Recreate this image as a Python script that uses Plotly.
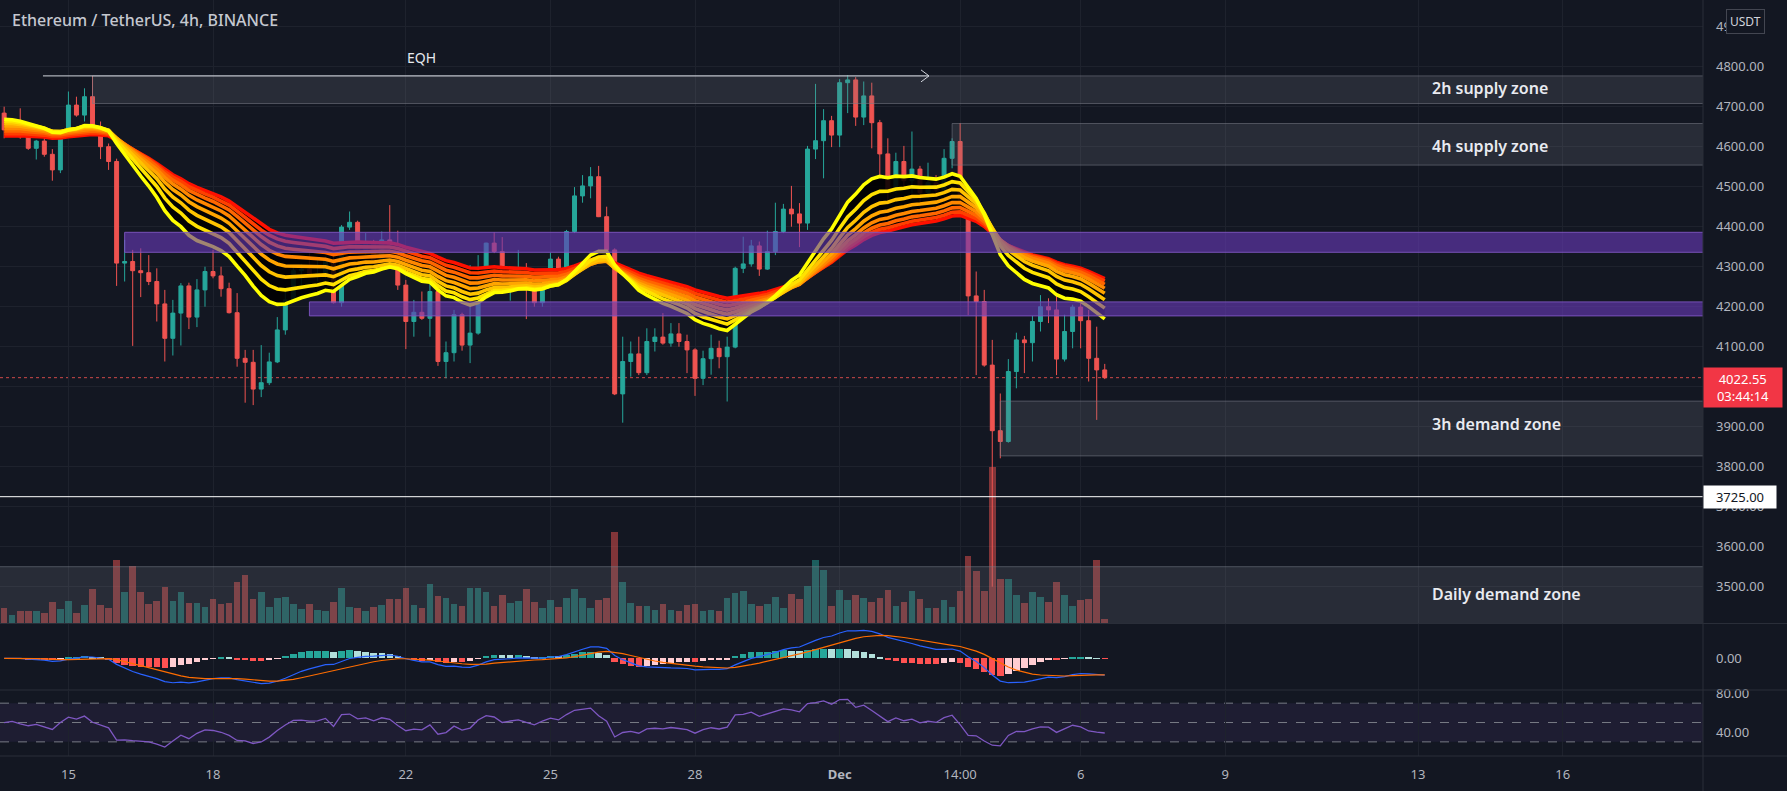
import numpy as np
import pandas as pd
import plotly.graph_objects as go

# ---------------- data (ETH/USDT 4h, Binance) ----------------
bar_start = "2021-11-13 16:00"
open_ = [4684,4642,4660,4625,4596,4614,4581,4542,4627,4704,
         4679,4725,4646,4600,4563,4309,4313,4290,4285,4263,
         4207,4121,4184,4252,4174,4242,4288,4277,4245,4185,
         4071,4061,3994,4010,4062,4142,4217,4290,4294,4280,
         4283,4317,4210,4399,4411,4342,4360,4317,4367,4346,
         4254,4163,4186,4171,4238,4063,4085,4180,4104,4134,
         4271,4359,4338,4244,4271,4292,4250,4210,4271,4319,
         4294,4388,4477,4502,4525,4425,4342,3982,4063,4082,
         4035,4113,4124,4109,4132,4113,4092,4021,4070,4096,
         4075,4099,4296,4307,4352,4294,4338,4388,4444,4432,
         4409,4594,4615,4665,4629,4760,4767,4674,4727,4660,
         4582,4492,4563,4515,4544,4485,4510,4492,4571,4613,
         4467,4227,4213,4054,3890,3863,4038,4117,4110,4163,
         4200,4192,4069,4138,4199,4165,4071,4042]
high = [4700,4670,4696,4640,4617,4627,4594,4635,4738,4725,
        4746,4777,4663,4608,4570,4367,4342,4346,4329,4296,
        4242,4217,4259,4260,4269,4300,4342,4300,4260,4234,
        4092,4092,4104,4085,4174,4242,4302,4307,4334,4317,
        4325,4327,4404,4438,4415,4384,4367,4388,4454,4390,
        4267,4217,4238,4325,4246,4113,4192,4185,4304,4329,
        4360,4386,4374,4282,4342,4309,4259,4277,4335,4325,
        4392,4499,4529,4549,4552,4450,4346,4125,4113,4125,
        4146,4146,4184,4159,4159,4130,4096,4090,4130,4115,
        4125,4300,4375,4367,4363,4390,4460,4457,4502,4459,
        4602,4757,4694,4677,4769,4779,4774,4763,4760,4667,
        4621,4585,4602,4638,4552,4560,4529,4594,4621,4659,
        4475,4288,4242,4117,3983,4069,4135,4127,4177,4229,
        4221,4244,4180,4205,4209,4192,4150,4057]
low = [4621,4637,4620,4592,4568,4575,4515,4534,4622,4675,
       4663,4640,4569,4542,4252,4263,4102,4224,4254,4163,
       4063,4078,4103,4144,4149,4200,4271,4225,4183,4050,
       3960,3954,3974,4004,4059,4130,4213,4250,4275,4263,
       4271,4208,4200,4392,4335,4330,4309,4309,4342,4242,
       4094,4125,4167,4125,4052,4021,4063,4090,4059,4130,
       4265,4334,4234,4215,4259,4169,4200,4200,4250,4284,
       4271,4384,4460,4471,4424,4338,3979,3910,4025,4029,
       4029,4088,4105,4100,4100,4034,3977,4004,4030,4046,
       3963,4096,4284,4300,4277,4292,4329,4384,4400,4349,
       4392,4569,4521,4599,4599,4684,4652,4654,4596,4529,
       4454,4484,4492,4484,4450,4471,4475,4488,4546,4446,
       4179,4029,4050,3500,3821,3860,3996,4034,4063,4138,
       4159,4029,4063,4096,4096,4013,3917,4019]
close = [4642,4660,4625,4596,4614,4581,4542,4627,4704,4679,
         4725,4646,4600,4563,4309,4313,4290,4285,4263,4207,
         4121,4184,4252,4174,4242,4288,4277,4245,4185,4071,
         4061,3994,4010,4062,4142,4217,4290,4294,4280,4283,
         4317,4210,4399,4411,4342,4360,4317,4367,4346,4254,
         4163,4186,4171,4238,4063,4085,4180,4104,4134,4271,
         4359,4338,4244,4271,4292,4250,4210,4271,4319,4294,
         4388,4477,4502,4525,4425,4342,3982,4063,4082,4035,
         4113,4124,4109,4132,4113,4092,4021,4070,4096,4075,
         4099,4296,4307,4352,4294,4338,4388,4444,4432,4409,
         4594,4615,4665,4629,4760,4767,4674,4727,4660,4582,
         4492,4563,4515,4544,4485,4510,4492,4571,4613,4467,
         4227,4213,4054,3890,3863,4038,4117,4110,4163,4200,
         4192,4069,4138,4199,4165,4071,4042,4022.55]
volume_k = [43,25,35,35,35,30,63,40,64,30,
            52,100,54,43,185,92,167,92,55,64,
            106,64,92,58,58,46,70,55,58,122,
            140,70,92,48,73,76,55,40,55,37,
            34,62,103,48,43,34,46,52,70,70,
            103,52,43,115,79,73,55,49,103,103,
            91,49,82,58,64,100,61,43,67,46,
            75,99,73,43,67,73,268,122,58,49,
            49,37,55,37,34,52,55,34,37,34,
            73,88,94,55,49,55,76,43,85,70,
            109,184,157,49,97,67,82,73,61,73,
            97,49,61,94,70,43,43,67,46,94,
            196,154,94,459,130,130,82,58,91,76,
            61,121,82,49,67,70,184,13]

# EMA ribbon (lengths, starting values read at the first bar, colours)
ema_lengths = [20, 25, 30, 35, 40, 45, 50, 55]
ema_start = [4671, 4665, 4659, 4653, 4646, 4639, 4632, 4626]
ema_colors = ["#ffff00", "#ffe100", "#ffc300", "#ffa500",
              "#ff8700", "#ff6600", "#ff3f00", "#ff1000"]

# zones: (label, start, end, low, high, kind, label_price)
zones = [
    ("2h supply zone", "2021-11-15 12:00", "2021-12-25", 4708, 4777, "gray", 4747),
    ("4h supply zone", "2021-12-03 08:00", "2021-12-25", 4554, 4658, "gray", 4601),
    ("3h demand zone", "2021-12-04 08:00", "2021-12-25", 3827, 3964, "gray", 3908),
    ("", "2021-11-16 04:00", "2021-12-25", 4336, 4386, "purple", None),
    ("", "2021-11-20 00:00", "2021-12-25", 4177, 4212, "purple", None),
]
daily_zone = ("Daily demand zone", "2021-11-10", "2021-12-25", 3400, 3550, "gray", 3483)
label_x = "2021-12-13 06:00"
level_line = 3725.00
eqh = ("EQH", "2021-11-14 11:20", "2021-12-02 20:30", 4777, "2021-11-22 08:00", 4824)
last_price = 4022.55
countdown = "03:44:14"

tick_dates = ["2021-11-15", "2021-11-18", "2021-11-22", "2021-11-25", "2021-11-28",
              "2021-12-01", "2021-12-03 12:00", "2021-12-06", "2021-12-09",
              "2021-12-13", "2021-12-16"]
tick_labels = ["15", "18", "22", "25", "28", "<b>Dec</b>", "14:00", "6", "9", "13", "16"]
price_ticks = list(range(3500, 5000, 100))
hidden_price_ticks = [4000]  # covered by the last-price label in the reference

# ---------------- indicators ----------------
times = pd.date_range(bar_start, periods=len(close), freq="4h")
c = np.array(close, dtype=float)
o = np.array(open_, dtype=float)


def ema(values, length, start):
    a = 2.0 / (length + 1)
    out, e = [], start
    for v in values:
        e = e + a * (v - e)
        out.append(e)
    return np.array(out)


ribbon = [ema(c, L, s) for L, s in zip(ema_lengths, ema_start)]

ema12 = ema(c, 12, c[0])
ema26 = ema(c, 26, c[0])
macd = ema12 - ema26
signal = ema(macd, 9, 0.0)
hist = macd - signal
hist_colors = []
for i, h in enumerate(hist):
    prev = hist[i - 1] if i > 0 else 0
    if h >= 0:
        hist_colors.append("#26a69a" if h >= prev else "#b2dfdb")
    else:
        hist_colors.append("#ffcdd2" if h > prev else "#ff5252")

diff = np.diff(c, prepend=c[0])
gain = np.clip(diff, 0, None)
loss = np.clip(-diff, 0, None)
seed = np.mean(np.abs(diff[1:15])) / 2
ag, al = seed, seed
rsi = []
for g, l_ in zip(gain, loss):
    ag = (ag * 13 + g) / 14
    al = (al * 13 + l_) / 14
    rsi.append(100 - 100 / (1 + ag / al) if al > 0 else 100)

# ---------------- figure ----------------
fig = go.Figure()

up_vol = "rgba(38,166,154,0.5)"
dn_vol = "rgba(239,83,80,0.5)"
vol_colors = [up_vol if cc >= oo else dn_vol for cc, oo in zip(c, o)]
fig.add_trace(go.Bar(x=times, y=volume_k, marker=dict(color=vol_colors, line=dict(width=0)),
                     width=4 * 3600 * 1000 * 0.82, yaxis="y2", hoverinfo="skip", showlegend=False))

# ribbon: dark fill between fastest and slowest then coloured lines
fig.add_trace(go.Scatter(x=times, y=ribbon[-1], mode="lines", line=dict(width=0, color="rgba(0,0,0,0)"),
                         hoverinfo="skip", showlegend=False))
fig.add_trace(go.Scatter(x=times, y=ribbon[0], mode="lines", line=dict(width=0, color="rgba(0,0,0,0)"),
                         fill="tonexty", fillcolor="rgba(0,0,0,0.88)", hoverinfo="skip", showlegend=False))
for vals, col in reversed(list(zip(ribbon, ema_colors))):
    fig.add_trace(go.Scatter(x=times, y=vals, mode="lines", line=dict(width=3.6, color=col),
                             hoverinfo="skip", showlegend=False))

for name, x0, x1, lo, hi, kind, lp in zones:
    if kind == "gray":
        fc, lc = "rgba(120,123,134,0.22)", "rgba(120,123,134,0.55)"
    else:
        fc, lc = "rgba(103,58,183,0.62)", "rgba(126,87,194,0.9)"
    fig.add_trace(go.Scatter(x=[x0, x1, x1, x0, x0], y=[lo, lo, hi, hi, lo], mode="lines",
                             fill="toself", fillcolor=fc, line=dict(color=lc, width=1),
                             hoverinfo="skip", showlegend=False))

fig.add_trace(go.Candlestick(
    x=times, open=open_, high=high, low=low, close=close,
    increasing=dict(line=dict(color="#26a69a", width=1), fillcolor="#26a69a"),
    decreasing=dict(line=dict(color="#ef5350", width=1), fillcolor="#ef5350"),
    whiskerwidth=0, hoverinfo="skip", showlegend=False))

# MACD pane
fig.add_trace(go.Bar(x=times, y=hist, marker=dict(color=hist_colors, line=dict(width=0)),
                     width=4 * 3600 * 1000 * 0.8, yaxis="y3", hoverinfo="skip", showlegend=False))
fig.add_trace(go.Scatter(x=times, y=macd, mode="lines", line=dict(color="#2962ff", width=1.2),
                         yaxis="y3", hoverinfo="skip", showlegend=False))
fig.add_trace(go.Scatter(x=times, y=signal, mode="lines", line=dict(color="#ff6d00", width=1.2),
                         yaxis="y3", hoverinfo="skip", showlegend=False))

# RSI pane
fig.add_trace(go.Scatter(x=times, y=rsi, mode="lines", line=dict(color="#7e57c2", width=1.3),
                         yaxis="y4", hoverinfo="skip", showlegend=False))

allm = np.concatenate([macd, signal, hist])
mlo, mhi = allm.min(), allm.max()
pad = (mhi - mlo) * 0.12

H = 756.0  # plot-area height in px


def py(px):
    return 1 - px / H


grid = "#1e222d"
axis_font = dict(family="Noto Sans", size=13, color="#b2b5be")
sep = "#2a2e39"
xr = 1787 / 1703

shapes = []
shapes.append(dict(type="rect", xref="x", yref="y", x0=daily_zone[1], x1=daily_zone[2],
                   y0=daily_zone[3], y1=daily_zone[4], fillcolor="rgba(120,123,134,0.22)",
                   line=dict(color="rgba(120,123,134,0.55)", width=1), layer="above"))
shapes.append(dict(type="line", xref="paper", yref="y", x0=0, x1=1, y0=last_price, y1=last_price,
                   line=dict(color="rgba(239,83,80,0.85)", width=1, dash="dot"), layer="below"))
shapes.append(dict(type="line", xref="paper", yref="y", x0=0, x1=1, y0=level_line, y1=level_line,
                   line=dict(color="#ffffff", width=1), layer="above"))
shapes.append(dict(type="line", xref="x", yref="y", x0=eqh[1], x1=eqh[2], y0=eqh[3], y1=eqh[3],
                   line=dict(color="#d1d4dc", width=1), layer="above"))
for dy in (6, -6):
    shapes.append(dict(type="line", xref="x", yref="y", xsizemode="pixel", ysizemode="pixel",
                       xanchor=eqh[2], yanchor=eqh[3], x0=-8, x1=0, y0=dy, y1=0,
                       line=dict(color="#d1d4dc", width=1), layer="above"))
shapes.append(dict(type="rect", xref="x domain", yref="y4", x0=0, x1=1, y0=30, y1=70,
                   fillcolor="rgba(126,87,194,0.10)", line=dict(width=0), layer="below"))
for lvl in (70, 50, 30):
    shapes.append(dict(type="line", xref="x domain", yref="y4", x0=0, x1=1, y0=lvl, y1=lvl,
                       line=dict(color="#787b86", width=1, dash="dash"), layer="below"))
for p in (623.5, 690.0, 756.0):
    shapes.append(dict(type="line", xref="paper", yref="paper", x0=0, x1=xr, y0=py(p), y1=py(p),
                       line=dict(color=sep, width=1), layer="above"))
shapes.append(dict(type="line", xref="paper", yref="paper", x0=1, x1=1, y0=py(791), y1=1,
                   line=dict(color=sep, width=1), layer="above"))

annotations = []
annotations.append(dict(text="Ethereum / TetherUS, 4h, BINANCE", xref="paper", yref="paper",
                        x=0, y=py(20), xanchor="left", yanchor="middle", xshift=10, showarrow=False,
                        font=dict(family="Noto Sans", size=16, color="#c5c8d0", weight=500)))
annotations.append(dict(text=eqh[0], xref="x", yref="y", x=eqh[4], y=eqh[5], showarrow=False,
                        font=dict(family="Noto Sans", size=14, color="#e6e8ee")))
for name, x0, x1, lo, hi, kind, lp in zones + [daily_zone]:
    if name:
        annotations.append(dict(text=name, xref="x", yref="y", x=label_x, y=lp,
                                xanchor="left", yanchor="middle", showarrow=False,
                                font=dict(family="Noto Sans", size=16, color="#e8eaf0", weight=600)))
annotations.append(dict(text=f"{last_price:.2f}<br>{countdown}", xref="paper", yref="y",
                        x=1, y=last_price, xanchor="left", yanchor="top", yshift=11,
                        showarrow=False, bgcolor="#f23645", borderpad=2, width=74, align="center",
                        font=dict(family="Noto Sans", size=13, color="#ffffff")))
annotations.append(dict(text=f"{level_line:.2f}", xref="paper", yref="y", x=1, y=level_line,
                        xanchor="left", yanchor="middle", showarrow=False, bgcolor="#ffffff",
                        borderpad=2, width=68, align="center",
                        font=dict(family="Noto Sans", size=13, color="#131722")))
annotations.append(dict(text="USDT", xref="paper", yref="paper", x=1745 / 1703, y=py(21),
                        xanchor="center", yanchor="middle", showarrow=False, bgcolor="#131722",
                        bordercolor="#434651", borderwidth=1, borderpad=3,
                        font=dict(family="Noto Sans", size=12, color="#d1d4dc")))

fig.update_layout(
    width=1787, height=791,
    margin=dict(l=0, r=84, t=0, b=35, autoexpand=False),
    paper_bgcolor="#131722", plot_bgcolor="#131722",
    showlegend=False, bargap=0,
    xaxis=dict(type="date", range=["2021-11-13 13:56", "2021-12-18 21:53"], anchor="y4",
               tickvals=tick_dates, ticktext=tick_labels, tickfont=axis_font, ticks="",
               ticklabelstandoff=9, showgrid=True, gridcolor=grid, gridwidth=1, automargin=False,
               zeroline=False, showline=False, rangeslider=dict(visible=False), fixedrange=True),
    yaxis=dict(domain=[py(623), 1], range=[3409.25, 4966.75], side="right",
               tickvals=price_ticks,
               ticktext=["" if v in hidden_price_ticks else f"{v:.2f}" for v in price_ticks],
               tickfont=axis_font, ticks="", ticklabelstandoff=12, showgrid=True, gridcolor=grid,
               zeroline=False, showline=False, fixedrange=True, automargin=False),
    yaxis2=dict(overlaying="y", range=[0, 1832], visible=False, fixedrange=True),
    yaxis3=dict(domain=[py(690), py(624)], range=[mlo - pad, mhi + pad], side="right",
                tickvals=[0], ticktext=["0.00"], tickfont=axis_font, ticks="",
                ticklabelstandoff=12, showgrid=False, zeroline=False, showline=False,
                fixedrange=True, anchor="x", automargin=False),
    yaxis4=dict(domain=[0, py(690.5)], range=[15.4, 83.1], side="right",
                tickvals=[40, 80], ticktext=["40.00", "80.00"], tickfont=axis_font, ticks="",
                ticklabelstandoff=12, showgrid=False, zeroline=False, showline=False,
                fixedrange=True, anchor="x", automargin=False),
    shapes=shapes, annotations=annotations,
)

fig.write_html("out.html", config={"displayModeBar": False},
               post_script="document.body.style.margin='0px';document.body.style.overflow='hidden';")
